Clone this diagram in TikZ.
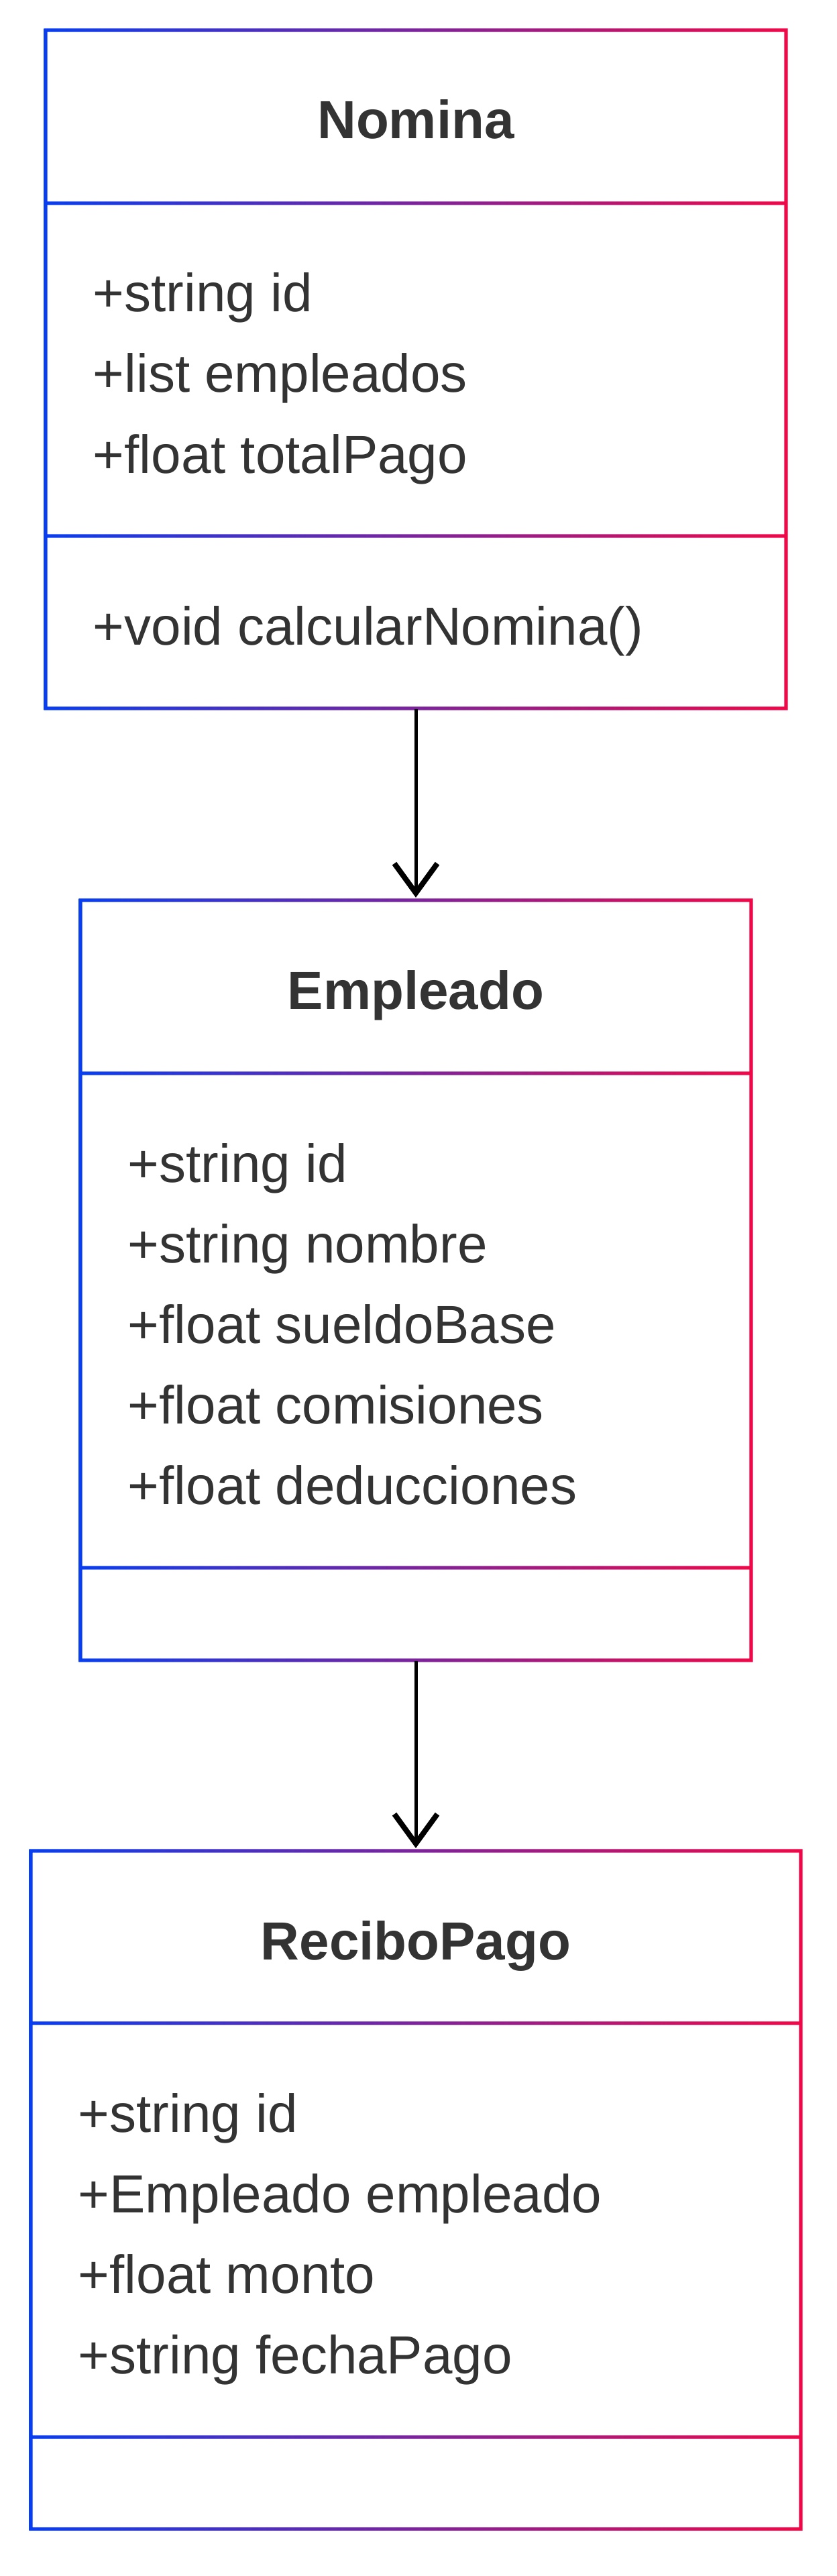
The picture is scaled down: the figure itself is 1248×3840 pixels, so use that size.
\documentclass[tikz,border=0pt]{standalone}
\usepackage{fontspec}
\setmainfont{Liberation Sans}
\usetikzlibrary{fit}
\definecolor{cblue}{RGB}{8,62,240}
\definecolor{cred}{RGB}{240,8,72}
\definecolor{ctext}{RGB}{51,51,51}
\tikzset{
  attr/.style={anchor=base west, inner sep=0pt, text=ctext, font=\fontsize{20pt}{24pt}\selectfont},
  ctitle/.style={anchor=base, inner sep=0pt, text=ctext, font=\fontsize{20pt}{24pt}\selectfont\bfseries},
  boxarea/.style={inner sep=0pt, draw=none},
  conn/.style={draw=black, line width=1.25pt},
  barb/.style={draw=black, line width=2pt, line join=miter, line cap=butt},
}
% gradient bordered box: #1 left, #2 right, #3 top, #4 bottom, #5 header divider, #6 member divider
\newcommand\gradbox[6]{%
  \shade[left color=cblue, right color=cred, even odd rule]
    ({#1-2.6},{#3-2.6}) rectangle ({#2+2.6},{#4+2.6})
    ({#1+2.6},{#3+2.6}) rectangle ({#2-2.6},{#4-2.6})
    ({#1+2.6},{#5-2.6}) rectangle ({#2-2.6},{#5+2.6})
    ({#1+2.6},{#6-2.6}) rectangle ({#2-2.6},{#6+2.6});
}
% open V arrowhead ending on the top of a node
\newcommand\vhead[1]{%
  \draw[barb] ([xshift=-8pt,yshift=13.5pt]#1.north) -- ([yshift=2.5pt]#1.north) -- ([xshift=8pt,yshift=13.5pt]#1.north);
}
\begin{document}
\begin{tikzpicture}[x=0.25pt,y=-0.25pt]
\useasboundingbox (0,0) rectangle (1248,3840);

% Nomina
\node[boxarea, fit={(68,45) (1172,1056)}] (nomina) {};
\gradbox{68}{1172}{45}{1056}{303}{799}
\node[ctitle] (nominaT) at (620,207) {Nomina};
\node[attr] (nomA1) at (138,465) {+string id};
\node[attr] (nomA2) at (138,585) {+list empleados};
\node[attr] (nomA3) at (138,705) {+float totalPago};
\node[attr] (nomM1) at (138,961) {+void calcularNomina()};

% Empleado
\node[boxarea, fit={(120,1342) (1120,2475)}] (empleado) {};
\gradbox{120}{1120}{1342}{2475}{1600}{2337}
\node[ctitle] (empT) at (620,1504) {Empleado};
\node[attr] (empA1) at (190,1762) {+string id};
\node[attr] (empA2) at (190,1882) {+string nombre};
\node[attr] (empA3) at (190,2002) {+float sueldoBase};
\node[attr] (empA4) at (190,2122) {+float comisiones};
\node[attr] (empA5) at (190,2242) {+float deducciones};

% ReciboPago
\node[boxarea, fit={(46,2759) (1194,3770)}] (recibo) {};
\gradbox{46}{1194}{2759}{3770}{3016}{3633}
\node[ctitle] (recT) at (620,2921) {ReciboPago};
\node[attr] (recA1) at (116,3178) {+string id};
\node[attr] (recA2) at (116,3298) {+Empleado empleado};
\node[attr] (recA3) at (116,3418) {+float monto};
\node[attr] (recA4) at (116,3538) {+string fechaPago};

% connectors
\draw[conn] (nomina.south) -- ([yshift=2.5pt]empleado.north);
\vhead{empleado}
\draw[conn] (empleado.south) -- ([yshift=2.5pt]recibo.north);
\vhead{recibo}
\end{tikzpicture}
\end{document}
